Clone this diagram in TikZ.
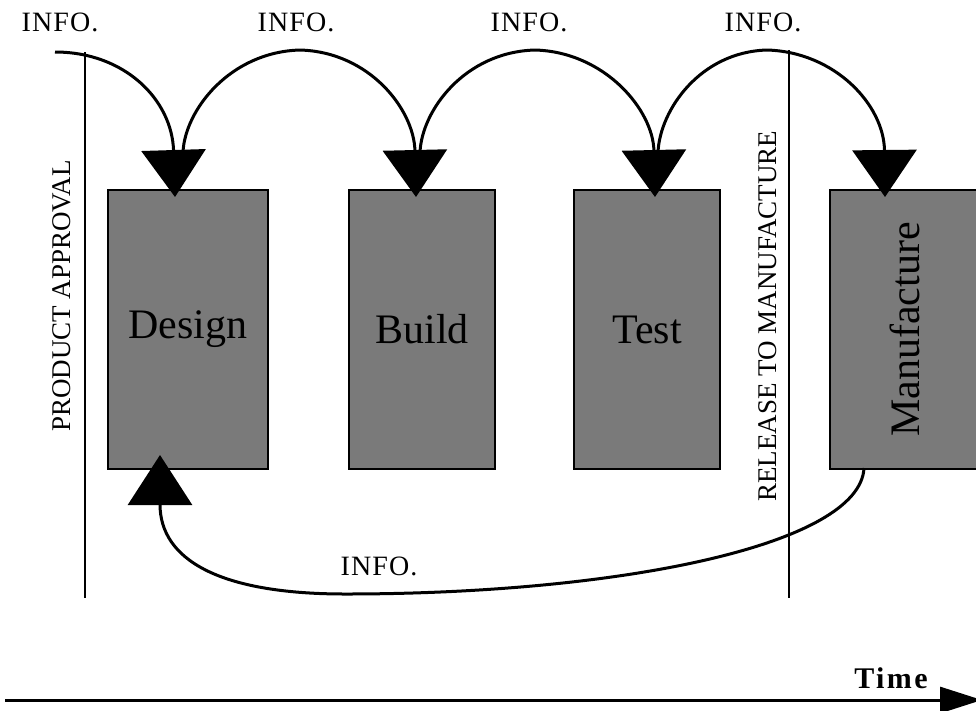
\documentclass[tikz,border=0pt]{standalone}
\usepackage{fontspec}
\setmainfont{Liberation Serif}
\usetikzlibrary{arrows.meta}
\definecolor{boxgray}{RGB}{122,122,122}
\begin{document}
\begin{tikzpicture}[x=1pt,y=-1pt,
  stage/.style={draw=black, line width=2.5pt, fill=boxgray, inner sep=0pt,
    font=\fontsize{42}{48}\selectfont, minimum height=279pt},
  infolabel/.style={font=\fontsize{28}{32}\selectfont\addfontfeatures{LetterSpace=4}, inner sep=0pt},
  milestone/.style={font=\fontsize{27}{30}\selectfont, inner sep=0pt, rotate=90},
  infoarrow/.style={line width=3pt, -{Triangle[width=64pt,length=47pt]}},
  gate/.style={line width=1.8pt}]
\useasboundingbox (0,0) rectangle (976,710);

% stage boxes
\node[stage, minimum width=160pt] (design) at (188,329.5) {Design};
\node[stage, minimum width=146pt] (build) at (422,329.5) {Build};
\node[stage, minimum width=146pt] (test) at (647,329.5) {Test};
\node[stage, minimum width=150pt] (manu) at (905,329.5) {\rotatebox{90}{Manufacture}};

% gates
\coordinate (pa top) at (85,52);
\coordinate (pa bot) at (85,598);
\coordinate (rm top) at (789,50);
\coordinate (rm bot) at (789,598);
\draw[gate] (pa top) -- (pa bot);
\draw[gate] (rm top) -- (rm bot);
\node[milestone] (pa) at (62,296) {PRODUCT APPROVAL};
\node[milestone] (rm) at (768,316) {RELEASE TO MANUFACTURE};

% arrow anchors
\coordinate (src) at (55,52);
\coordinate (tipD) at (175,197);
\coordinate (outD) at (183,152);
\coordinate (tipB) at (416,197);
\coordinate (outB) at (420,152);
\coordinate (tipT) at (655,197);
\coordinate (outT) at (658,152);
\coordinate (tipM) at (885,197);
\coordinate (outM) at (864,468);
\coordinate (tipDb) at (160,455);

% info flows
\draw[infoarrow] (src) .. controls (125,52) and (172,100) .. (tipD);
\draw[infoarrow] (outD) .. controls (185,110) and (230,52) .. (300,50)
  .. controls (370,52) and (414,110) .. (tipB);
\draw[infoarrow] (outB) .. controls (422,110) and (465,52) .. (535,50)
  .. controls (605,52) and (653,110) .. (tipT);
\draw[infoarrow] (outT) .. controls (660,110) and (700,52) .. (767,50)
  .. controls (835,52) and (884,105) .. (tipM);
\draw[line width=3pt, -{Triangle[width=64pt,length=50pt]}] (outM)
  .. controls (860,545) and (620,594) .. (345,594)
  .. controls (220,594) and (160,560) .. (tipDb);

% labels
\node[infolabel] (i1) at (60,22) {INFO.};
\node[infolabel] (i2) at (296,22) {INFO.};
\node[infolabel] (i3) at (529,22) {INFO.};
\node[infolabel] (i4) at (763,22) {INFO.};
\node[infolabel] (i5) at (379,566) {INFO.};

% time axis
\coordinate (t0) at (5,700);
\coordinate (t1) at (982,700);
\draw[line width=3pt, -{Triangle[width=26pt,length=42pt]}] (t0) -- (t1);
\node[font=\fontsize{30}{34}\selectfont\bfseries\addfontfeatures{LetterSpace=8}, inner sep=0pt] (time) at (891,678) {Time};
\end{tikzpicture}
\end{document}
